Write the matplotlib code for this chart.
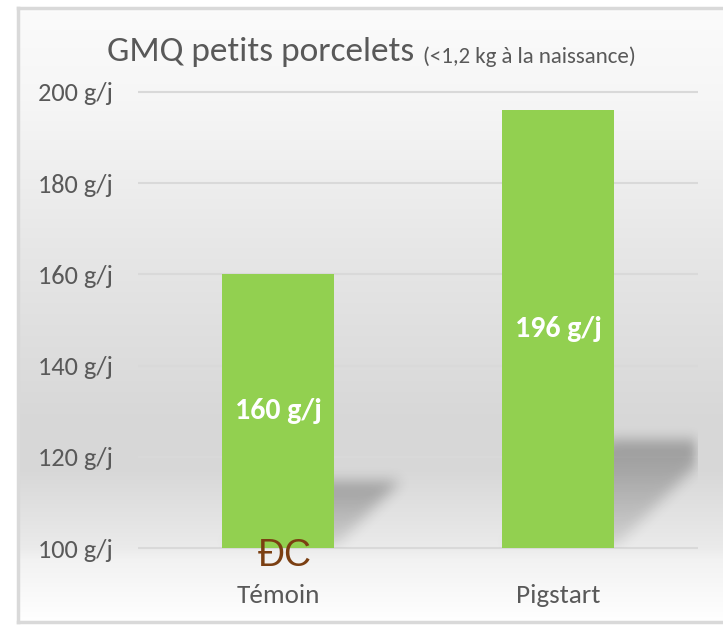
import numpy as np
import matplotlib.pyplot as plt
from matplotlib.path import Path

categories = ['Témoin', 'Pigstart']
values = [160, 196]
bar_labels = ['160 g/j', '196 g/j']
y_ticks = [100, 120, 140, 160, 180, 200]
y_tick_labels = [f'{t} g/j' for t in y_ticks]
title = 'GMQ petits porcelets'
subtitle = '(<1,2 kg à la naissance)'
overlay = 'ĐC'

W, H = 723, 625
narrow = ['Carlito', 'Lato', 'DejaVu Sans']
txt_gray = '#595959'
green = '#92D050'

fig = plt.figure(figsize=(W / 100, H / 100), dpi=100)

# fond dégradé + cadre
bg = fig.add_axes([18 / W, 3 / H, 720 / W, 614 / H], zorder=0)
stops_y = [8, 100, 250, 420, 470, 548, 560, 622]
stops_g = [0.985, 0.965, 0.905, 0.845, 0.845, 0.92, 0.95, 1.0]
g = np.interp(np.arange(8, 623), stops_y, stops_g)
img = np.dstack([np.repeat(g[:, None], 2, axis=1)] * 3)
bg.imshow(img, aspect='auto', extent=[0, 1, 0, 1])
bg.set_xlim(0, 1)
bg.set_ylim(0, 1)
bg.set_xticks([])
bg.set_yticks([])
for s in bg.spines.values():
    s.set_color('#d9d9d9')
    s.set_linewidth(2.5)

# axes principal
ax_w, ax_h = 560, 456
ax = fig.add_axes([138 / W, (H - 548) / H, ax_w / W, ax_h / H], zorder=1)
ax.patch.set_alpha(0)
ax.set_xlim(-0.5, 1.5)
ax.set_ylim(100, 200)
for s in ax.spines.values():
    s.set_visible(False)

ax.hlines(y_ticks, -0.5, 1.5, colors='#d9d9d9', lw=1.5, zorder=0.5, clip_on=False)

x = np.arange(len(categories))
bw = 0.4

# ombres portées
px_x = ax_w / 2.0
px_y = ax_h / 100.0
xs = np.linspace(-0.5, 1.5, ax_w)
ys = np.linspace(100, 200, ax_h)
XX, YY = np.meshgrid(xs, ys)
pts = np.column_stack([XX.ravel(), YY.ravel()])


def box_blur(a, r):
    k = np.ones(2 * r + 1) / (2 * r + 1)
    a = np.apply_along_axis(lambda m: np.convolve(m, k, mode='same'), 0, a)
    a = np.apply_along_axis(lambda m: np.convolve(m, k, mode='same'), 1, a)
    return a


shadow = np.zeros_like(XX)
for xi, v in zip(x, values):
    hs = 0.245 * (v - 100)
    sk = hs * px_y / px_x
    poly = Path([(xi - bw / 2, 100), (xi + bw / 2, 100),
                 (xi + bw / 2 + sk, 100 + hs), (xi - bw / 2 + sk, 100 + hs)])
    inside = poly.contains_points(pts).reshape(XX.shape)
    frac = np.clip((YY - 100) / hs, 0, 1)
    shadow += inside * (0.35 + 0.65 * frac)
shadow = np.clip(shadow, 0, 1)
for _ in range(3):
    shadow = box_blur(shadow, 6)
rgba = np.zeros(shadow.shape + (4,))
rgba[..., 3] = shadow * 0.28
ax.imshow(rgba, origin='lower', extent=[-0.5, 1.5, 100, 200], aspect='auto', zorder=1)

ax.bar(x, values, width=bw, color=green, zorder=3)

for xi, v, lab in zip(x, values, bar_labels):
    ax.text(xi, (100 + v) / 2, lab, ha='center', va='center', color='white',
            fontsize=21.5, fontweight='bold', family=narrow, zorder=4)

ax.set_yticks(y_ticks, y_tick_labels)
ax.set_xticks(x, categories)
ax.tick_params(axis='both', length=0, labelcolor=txt_gray)
ax.tick_params(axis='y', pad=18, labelsize=19)
ax.tick_params(axis='x', pad=26, labelsize=19.5)
for t in ax.get_xticklabels() + ax.get_yticklabels():
    t.set_family(narrow)

t1 = fig.text(107 / W, 1 - 61 / H, title, va='baseline', ha='left', fontsize=25.5,
              color=txt_gray, family=narrow)
ax.annotate(subtitle, xy=(1, 0), xycoords=t1, xytext=(6, 0), textcoords='offset points',
            va='bottom', ha='left', fontsize=16.5, color=txt_gray, family=narrow)

fig.text(285 / W, 1 - 556 / H, overlay, ha='center', va='center', fontsize=27,
         color='#7b3f12', family=['Liberation Sans', 'DejaVu Sans'], zorder=10)

fig.savefig('out.png', dpi=100, facecolor='white')
